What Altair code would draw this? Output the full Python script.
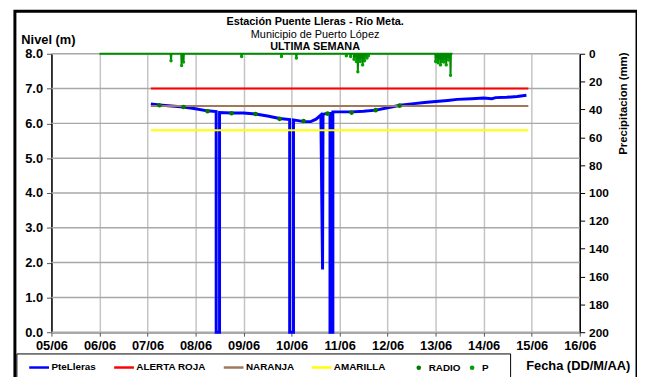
import altair as alt
import pandas as pd

# ---------------- data (day = fractional day of June) ----------------
level_day = [7.07, 7.25, 7.50, 7.75, 8.00, 8.24, 8.43, 8.43, 8.50, 8.50, 8.76, 9.00,
             9.25, 9.50, 9.75, 9.96, 9.96, 10.04, 10.04, 10.26, 10.40, 10.51, 10.61,
             10.645, 10.655, 10.71, 10.80, 10.80, 10.86, 10.86, 11.00, 11.26, 11.50,
             11.76, 12.00, 12.26, 12.50, 12.77, 13.00, 13.25, 13.45, 13.75, 14.00,
             14.17, 14.25, 14.48, 14.70, 14.89]
level_val = [6.56, 6.53, 6.50, 6.47, 6.42, 6.36, 6.34, 0.0, 0.0, 6.31, 6.30, 6.30,
             6.27, 6.21, 6.14, 6.11, 0.0, 0.0, 6.10, 6.05, 6.05, 6.12, 6.24,
             1.80, 6.26, 6.28, 6.29, 0.0, 0.0, 6.33, 6.33, 6.33, 6.35,
             6.38, 6.45, 6.52, 6.56, 6.60, 6.63, 6.66, 6.69, 6.71, 6.73,
             6.71, 6.74, 6.75, 6.77, 6.81]

radio_day = [7.25, 7.75, 8.25, 8.75, 9.25, 9.75, 10.25, 10.75, 11.25, 11.75, 12.25]
radio_val = [6.52, 6.47, 6.35, 6.29, 6.27, 6.13, 6.07, 6.28, 6.31, 6.38, 6.51]

p_start, p_end = 6.0, 13.35
p_day = [7.49, 7.71, 7.75, 8.96, 9.79, 10.10, 11.14, 11.23, 11.30, 11.35, 11.38,
         11.43, 11.48, 11.52, 11.57, 11.60, 13.00, 13.05, 13.10, 13.13, 13.17,
         13.22, 13.27, 13.31]
p_val = [5.0, 8.5, 6.0, 2.0, 2.0, 3.0, 1.5, 2.0, 4.0, 5.5, 13.0,
         5.5, 8.0, 5.0, 3.0, 1.5, 5.5, 6.5, 8.0, 5.5, 6.0,
         8.0, 4.5, 15.5]

thr_names = ["ALERTA ROJA", "NARANJA", "AMARILLA"]
thr_vals = [7.0, 6.5, 5.8]
thr_start, thr_end = 7.07, 14.93

line_names = ["PteLleras", "ALERTA ROJA", "NARANJA", "AMARILLA"]
line_colors = ["#0000FF", "#FF0000", "#A0785A", "#FFFF00"]
dot_names = ["RADIO", "P"]
dot_colors = ["#007A00", "#00A000"]

day_ticks = list(range(5, 17))
day_labels = ["05/06", "06/06", "07/06", "08/06", "09/06", "10/06", "11/06",
              "12/06", "13/06", "14/06", "15/06", "16/06"]
level_ticks = [0, 1, 2, 3, 4, 5, 6, 7, 8]
precip_ticks = [0, 20, 40, 60, 80, 100, 120, 140, 160, 180, 200]

title_lines = ["Estación Puente Lleras - Río Meta.", "Municipio de Puerto López", "ULTIMA SEMANA"]

FONT = "Liberation Sans"
GRID = "#C4C4C4"
HGRID = "#A8A8A8"
W, H = 535, 282

# ---------------- tables ----------------
level_df = pd.DataFrame({"day": level_day, "val": level_val,
                         "serie": "PteLleras", "idx": range(len(level_day))})
thr_df = pd.DataFrame({"serie": thr_names, "val": thr_vals,
                       "start": thr_start, "end": thr_end})
radio_df = pd.DataFrame({"day": radio_day, "val": radio_val, "serie": "RADIO"})
grid_df = pd.DataFrame({"gval": level_ticks})

p_rows = [(p_start, 0.0)]
for d, v in zip(p_day, p_val):
    p_rows += [(d - 0.008, 0.0), (d, v), (d + 0.008, 0.0)]
p_rows.append((p_end, 0.0))
p_line_df = pd.DataFrame({"day": [r[0] for r in p_rows], "mm": [r[1] for r in p_rows],
                          "idx": range(len(p_rows))})
p_pts_df = pd.DataFrame({"day": p_day, "mm": p_val, "serie": "P"})

one = pd.DataFrame({"a": [0]})

# ---------------- scales / axes ----------------
label_expr = "[" + ",".join("'%s'" % s for s in day_labels) + "][datum.value - 5]"
x_scale = alt.Scale(domain=[5, 16], nice=False, zero=False)
x_axis = alt.Axis(values=day_ticks, labelExpr=label_expr, title="Fecha (DD/M/AA)",
                  titleX=533, titleY=34, titleAlign="center", titleBaseline="middle",
                  titleFontSize=13,
                  grid=True, gridColor=GRID, gridWidth=1.5,
                  domainColor="#555555", domainWidth=1.5, tickColor="#555555", tickSize=4,
                  labelPadding=3, labelFlush=False, labelOverlap=False, labelFontSize=13)
y_scale = alt.Scale(domain=[0, 8], nice=False, zero=False)
y_axis = alt.Axis(values=level_ticks, format=".1f", title="Nivel (m)", titleAngle=0,
                  orient="left",
                  titleX=-31, titleY=-14, titleAlign="left", titleBaseline="middle",
                  titleFontSize=13, grid=False,
                  domainColor="black", domainWidth=1.5, tickColor="#555555", tickSize=5,
                  labelPadding=4, labelFlush=False, labelOverlap=False, labelFontSize=13)
p_scale = alt.Scale(domain=[0, 200], reverse=True, nice=False, zero=False)
p_axis = alt.Axis(values=precip_ticks, orient="right", title="Precipitacion (mm)",
                  titleAngle=270, titleX=44, titleY=50, titleAlign="center",
                  titleBaseline="middle", titleFontSize=11.5, grid=False, domainColor="black",
                  domainWidth=1.5, tickColor="black", tickSize=5, labelPadding=4,
                  labelFlush=False, labelOverlap=False, labelFontSize=12)

X = alt.X("day:Q", scale=x_scale, axis=x_axis)
Yl = alt.Y("val:Q", scale=y_scale, axis=y_axis)
Yp = alt.Y("mm:Q", scale=p_scale, axis=p_axis)

color_enc = alt.Color("serie:N", scale=alt.Scale(domain=line_names, range=line_colors),
                      legend=alt.Legend(orient="none", legendX=-24, legendY=306,
                                        direction="horizontal", columns=4,
                                        symbolType="stroke", symbolSize=400,
                                        symbolStrokeWidth=2.5, title=None,
                                        labelFont=FONT, labelFontSize=10,
                                        labelFontWeight="bold", labelOffset=1,
                                        columnPadding=12, padding=0))
fill_enc = alt.Fill("serie:N", scale=alt.Scale(domain=dot_names, range=dot_colors),
                    legend=alt.Legend(orient="none", legendX=367, legendY=313,
                                      direction="horizontal", columns=2,
                                      symbolType="circle", symbolSize=22, title=None,
                                      labelFont=FONT, labelFontSize=10,
                                      labelFontWeight="bold", labelOffset=5,
                                      columnPadding=6, padding=0))

# ---------------- horizontal grid (own layer, same fixed level scale) ----------------
h_grid = alt.Chart(grid_df).mark_rule(color=HGRID, strokeWidth=1.5).encode(
    x=alt.value(0), x2=alt.value(W),
    y=alt.Y("gval:Q", scale=y_scale, axis=None))

# ---------------- level layers ----------------
level_line = alt.Chart(level_df).mark_line(strokeWidth=3, interpolate="linear").encode(
    x=X, y=Yl, color=color_enc, order=alt.Order("idx:Q"))
thr_rules = alt.Chart(thr_df).mark_rule(strokeWidth=2).encode(
    x=alt.X("start:Q", scale=x_scale, axis=x_axis), x2="end:Q", y=Yl,
    color=alt.Color("serie:N"))
radio_pts = alt.Chart(radio_df).mark_point(filled=True, size=22, opacity=1).encode(
    x=X, y=Yl, fill=fill_enc)
level_layer = alt.layer(level_line, thr_rules, radio_pts)

# ---------------- precipitation layers ----------------
p_line = alt.Chart(p_line_df).mark_line(strokeWidth=2, color="#008A00").encode(
    x=X, y=Yp, order=alt.Order("idx:Q"))
p_pts = alt.Chart(p_pts_df).mark_point(filled=True, size=12, opacity=1).encode(
    x=X, y=Yp, fill=alt.Fill("serie:N"))
precip_layer = alt.layer(p_line, p_pts)

# ---------------- decorations ----------------
frame = alt.Chart(one).mark_rect(fillOpacity=0, stroke="black", strokeWidth=3).encode(
    x=alt.value(-37), x2=alt.value(593), y=alt.value(-43), y2=alt.value(340))
legend_box = alt.Chart(one).mark_rect(fill="white", stroke="black", strokeWidth=1).encode(
    x=alt.value(-35), x2=alt.value(465), y=alt.value(304), y2=alt.value(340))
t1 = alt.Chart(one).mark_text(font=FONT, fontSize=11, fontWeight="bold", baseline="middle").encode(
    x=alt.value(267), y=alt.value(-32), text=alt.value(title_lines[0]))
t2 = alt.Chart(one).mark_text(font=FONT, fontSize=11, baseline="middle").encode(
    x=alt.value(267), y=alt.value(-19), text=alt.value(title_lines[1]))
t3 = alt.Chart(one).mark_text(font=FONT, fontSize=11, fontWeight="bold", baseline="middle").encode(
    x=alt.value(267), y=alt.value(-7), text=alt.value(title_lines[2]))

chart = alt.layer(
    h_grid, level_layer, precip_layer, frame, legend_box, t1, t2, t3
).resolve_scale(y="independent").properties(
    width=W, height=H,
    padding={"left": 44, "top": 44, "right": 58, "bottom": 43},
    autosize=alt.AutoSizeParams(type="none"),
    background="white",
).configure_view(stroke=None).configure_axis(
    labelFont=FONT, labelFontWeight="bold", labelColor="black",
    titleFont=FONT, titleFontWeight="bold", titleColor="black",
)

chart.save("out.html", embed_options={"renderer": "svg", "actions": False})
